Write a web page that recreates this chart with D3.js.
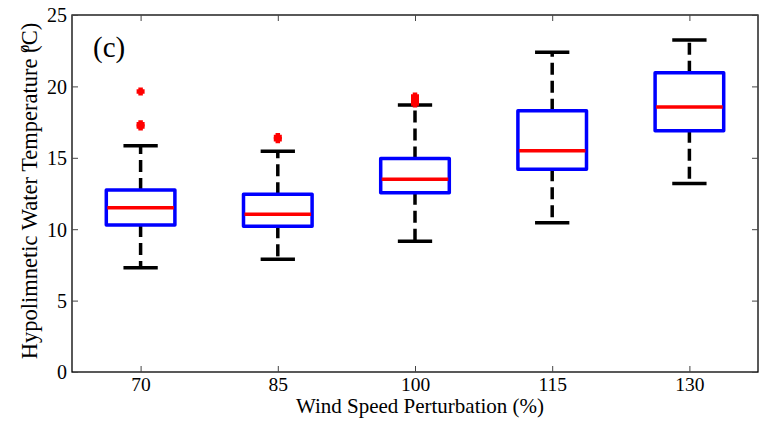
<!DOCTYPE html>
<html>
<head>
<meta charset="utf-8">
<script src="https://cdn.jsdelivr.net/npm/d3@7"></script>
<style>
html,body{margin:0;padding:0;background:#fff;}
svg{display:block;}
text{font-family:"Liberation Serif","Times New Roman",serif;fill:#000;}
</style>
</head>
<body>
<svg id="chart" width="761" height="422"></svg>
<script>
const categories = ["70","85","100","115","130"];
const q1 = [10.3, 10.2, 12.55, 14.2, 16.9];
const medians = [11.5, 11.05, 13.5, 15.5, 18.55];
const q3 = [12.75, 12.45, 14.95, 18.3, 20.95];
const whiskerLow = [7.3, 7.9, 9.15, 10.45, 13.2];
const whiskerHigh = [15.85, 15.45, 18.7, 22.4, 23.25];
const outliers = [[19.65, 17.35, 17.2], [16.45, 16.3], [19.3, 19.05, 18.8], [], []];
const yTicks = [0, 5, 10, 15, 20, 25];

const M = {left:72, right:758, top:15, bottom:372};
const svg = d3.select("#chart");

const x = d3.scalePoint().domain(categories).range([M.left, M.right]).padding(0.5);
const y = d3.scaleLinear().domain([0, 25]).range([M.bottom, M.top]);
const step = x.step();
const boxW = step * 0.5;
const capW = step * 0.25;

// frame
svg.append("rect").attr("x", M.left).attr("y", M.top)
  .attr("width", M.right - M.left).attr("height", M.bottom - M.top)
  .attr("fill", "none").attr("stroke", "#000").attr("stroke-width", 1.3);

// axes with inward ticks
const yAxis = d3.axisLeft(y).tickValues(yTicks).tickSize(-6).tickPadding(5).tickFormat(d3.format("d"));
const gy = svg.append("g").attr("transform", `translate(${M.left},0)`).call(yAxis);
gy.select(".domain").remove();
gy.selectAll("text").style("font-size", "20px").attr("dy", "0.34em");
gy.selectAll("line").attr("stroke", "#444");
const gyr = svg.append("g").attr("transform", `translate(${M.right},0)`)
  .call(d3.axisRight(y).tickValues(yTicks).tickSize(-6).tickFormat(""));
gyr.select(".domain").remove();
gyr.selectAll("line").attr("stroke", "#444");

const xAxis = d3.axisBottom(x).tickSize(-6).tickPadding(5);
const gx = svg.append("g").attr("transform", `translate(0,${M.bottom})`).call(xAxis);
gx.select(".domain").remove();
gx.selectAll("text").style("font-size", "19.5px");
gx.selectAll("line").attr("stroke", "#444");
const gxt = svg.append("g").attr("transform", `translate(0,${M.top})`)
  .call(d3.axisTop(x).tickSize(-6).tickFormat(""));
gxt.select(".domain").remove();
gxt.selectAll("line").attr("stroke", "#444");

const data = categories.map((c, i) => ({
  c, q1: q1[i], med: medians[i], q3: q3[i], lo: whiskerLow[i], hi: whiskerHigh[i], out: outliers[i]
}));

const g = svg.append("g");
const bx = g.selectAll("g.box").data(data).enter().append("g").attr("class", "box");

// whiskers (dashed)
bx.append("line").attr("x1", d => x(d.c)).attr("x2", d => x(d.c))
  .attr("y1", d => y(d.q3)).attr("y2", d => y(d.hi))
  .attr("stroke", "#000").attr("stroke-width", 3.5).attr("stroke-dasharray", "12,6");
bx.append("line").attr("x1", d => x(d.c)).attr("x2", d => x(d.c))
  .attr("y1", d => y(d.q1)).attr("y2", d => y(d.lo))
  .attr("stroke", "#000").attr("stroke-width", 3.5).attr("stroke-dasharray", "12,6");
// caps
bx.append("line").attr("x1", d => x(d.c) - capW/2).attr("x2", d => x(d.c) + capW/2)
  .attr("y1", d => y(d.hi)).attr("y2", d => y(d.hi))
  .attr("stroke", "#000").attr("stroke-width", 3.5);
bx.append("line").attr("x1", d => x(d.c) - capW/2).attr("x2", d => x(d.c) + capW/2)
  .attr("y1", d => y(d.lo)).attr("y2", d => y(d.lo))
  .attr("stroke", "#000").attr("stroke-width", 3.5);
// box
bx.append("rect").attr("x", d => x(d.c) - boxW/2).attr("width", boxW)
  .attr("y", d => y(d.q3)).attr("height", d => y(d.q1) - y(d.q3))
  .attr("fill", "#fff").attr("stroke", "#0000ff").attr("stroke-width", 3.5)
  .attr("stroke-linejoin", "round");
// median
bx.append("line").attr("x1", d => x(d.c) - boxW/2 + 1).attr("x2", d => x(d.c) + boxW/2 - 1)
  .attr("y1", d => y(d.med)).attr("y2", d => y(d.med))
  .attr("stroke", "#ff0000").attr("stroke-width", 3.5);
// outliers (red plus)
bx.each(function(d) {
  d3.select(this).selectAll("path.out").data(d.out).enter().append("path")
    .attr("class", "out")
    .attr("d", v => { const cx = x(d.c), cy = y(v), r = 4;
      return `M${cx - r},${cy}H${cx + r}M${cx},${cy - r}V${cy + r}`; })
    .attr("stroke", "#ff0000").attr("stroke-width", 4.5);
});

// panel label
svg.append("text").attr("x", 93).attr("y", 57).style("font-size", "29px").text("(c)");

// axis labels
svg.append("text").attr("x", 420).attr("y", 413)
  .attr("text-anchor", "middle").style("font-size", "21px").text("Wind Speed Perturbation (%)");

const yl = svg.append("text").attr("transform", `translate(37,${191}) rotate(-90)`)
  .attr("text-anchor", "middle").style("font-size", "22.5px");
yl.append("tspan").text("Hypolimnetic Water Temperature ");
yl.append("tspan").attr("dy", -8).style("font-size", "16px").text("o");
yl.append("tspan").attr("dy", 8).attr("dx", -8).text("(C)");
</script>
</body>
</html>
